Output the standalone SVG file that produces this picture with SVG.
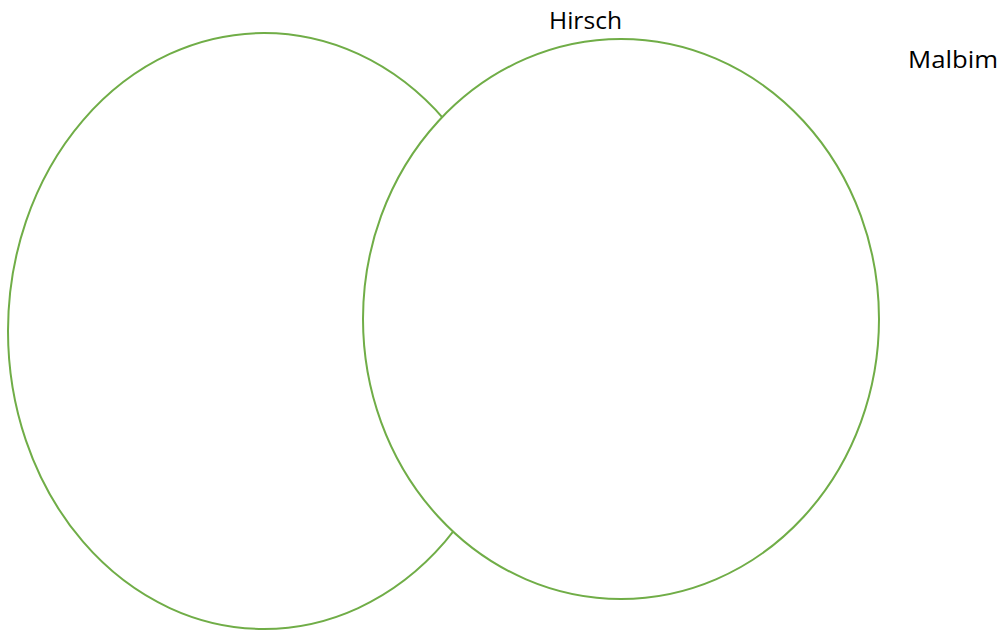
<svg xmlns="http://www.w3.org/2000/svg" width="1000" height="631" viewBox="0 0 1000 631">
<style>
.circle{fill:#fff;stroke:#70AD47;stroke-width:2}
.lbl{font-family:"Open Sans","Liberation Sans",sans-serif;font-size:23.5px;fill:#000}
</style>
<rect width="1000" height="631" fill="#fff"/>
<g id="left-set"><ellipse class="circle" cx="264" cy="331" rx="256" ry="298"/></g>
<g id="right-set"><ellipse class="circle" cx="621" cy="319" rx="258" ry="280"/></g>
<g id="labels">
<text id="hirsch" class="lbl" x="549" y="29" textLength="73" lengthAdjust="spacingAndGlyphs">Hirsch</text>
<text id="malbim" class="lbl" x="908" y="68" textLength="90" lengthAdjust="spacingAndGlyphs">Malbim</text>
</g>
<g id="connectors"/>
</svg>
